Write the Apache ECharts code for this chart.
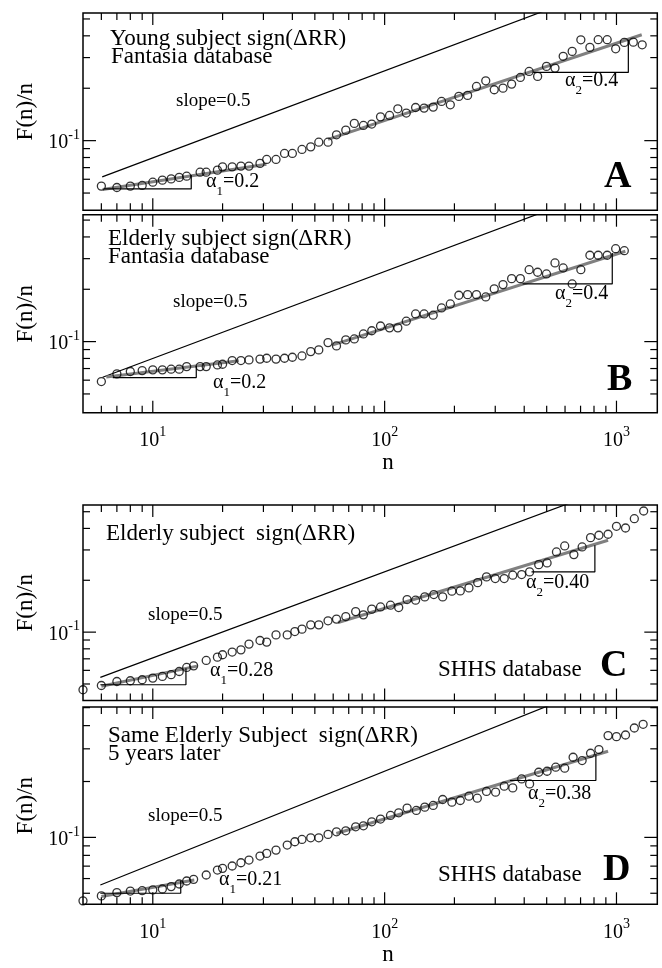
<!DOCTYPE html>
<html><head><meta charset="utf-8">
<script src="https://cdn.jsdelivr.net/npm/echarts@6/dist/echarts.min.js"></script>
<style>html,body{margin:0;padding:0;background:#fff}#c{width:662px;height:968px}</style>
</head><body><div id="c"></div>
<script>
// ---------- tick values ----------
const xTicksMajor = [10, 100, 1000];
const xTicksMinor = [6,7,8,9,20,30,40,50,60,70,80,90,200,300,400,500,600,700,800,900];
const yTicksMajor = [0.1];
const yTicksMinor = [0.05,0.06,0.07,0.08,0.09,0.2,0.3,0.4,0.5];

// ---------- Panel A : young subject, Fantasia ----------
const nA = [6,7,8,9,10,11,12,13,14,16,17,19,20,22,24,26,29,31,34,37,40,44,48,52,57,62,68,74,81,88,96,105,114,124,136,148,162,176,192,209,228,249,273,297,324,353,385,420,457,499,543,589,644,702,768,834,912,992,1081,1182,1291];
const fA = [0.0548,0.0538,0.0548,0.0553,0.0577,0.0593,0.0603,0.0615,0.0625,0.0659,0.0659,0.0677,0.0707,0.0707,0.0714,0.0714,0.0740,0.0780,0.0780,0.0844,0.0844,0.0890,0.0921,0.0980,0.0980,0.108,0.1149,0.1256,0.1223,0.1245,0.137,0.1396,0.1523,0.144,0.155,0.1538,0.1558,0.168,0.1607,0.1795,0.1819,0.2048,0.2207,0.196,0.2002,0.2112,0.2307,0.2498,0.2339,0.267,0.261,0.305,0.3256,0.3796,0.3432,0.38,0.38,0.337,0.3667,0.368,0.3553];
const slopeA = [[6.05,0.0619],[1500,0.975]];
const fit1A = [[6.08,0.0524],[30.9,0.0732]];
const fit2A = [[57,0.1016],[1285,0.4055]];
const tri1A = [[6.19,0.0528],[14.65,0.0528],[14.65,0.0634]];
const tri2A = [[437.5,0.2465],[1125,0.2465],[1125,0.3796]];

// ---------- Panel B : elderly subject, Fantasia ----------
const nB = [6,7,8,9,10,11,12,13,14,16,17,19,20,22,24,26,29,31,34,37,40,44,48,52,57,62,68,74,81,88,96,105,114,124,136,148,162,176,192,209,228,249,273,297,324,353,385,420,457,499,543,589,644,702,768,834,912,992,1081];
const fB = [0.0589,0.0652,0.0673,0.0681,0.0688,0.0688,0.0694,0.0694,0.0718,0.0718,0.0718,0.0734,0.0741,0.0778,0.0778,0.0785,0.0793,0.0802,0.0793,0.0802,0.0813,0.0827,0.0876,0.0896,0.0987,0.0945,0.1023,0.1036,0.1107,0.1155,0.123,0.120,0.120,0.131,0.1443,0.1443,0.1419,0.1562,0.1647,0.1848,0.1863,0.1863,0.1807,0.201,0.2127,0.2302,0.2302,0.2593,0.2505,0.245,0.2834,0.2652,0.2146,0.2593,0.3138,0.3138,0.3138,0.3424,0.3334];
const slopeB = [[6.08,0.0624],[1500,0.98]];
const fit1B = [[6.3,0.0625],[23.5,0.0775]];
const fit2B = [[59.8,0.0957],[1092,0.3307]];
const tri1B = [[6.72,0.0621],[15.4,0.0621],[15.4,0.0725]];
const tri2B = [[393.5,0.2146],[959,0.2146],[959,0.3235]];

// ---------- Panel C : elderly subject, SHHS ----------
const nC = [5,6,7,8,9,10,11,12,13,14,15,17,19,20,22,24,26,29,31,34,38,41,44,48,52,57,62,68,75,81,88,96,106,115,125,136,149,163,178,195,212,231,252,275,300,328,357,390,422,462,502,551,598,655,711,773,840,920,1000,1094,1194,1310];
const fC = [0.0463,0.049,0.0517,0.0522,0.0529,0.0541,0.0553,0.0566,0.0591,0.0624,0.0637,0.0685,0.0716,0.0739,0.0766,0.0789,0.0852,0.0894,0.0875,0.0964,0.0964,0.1008,0.1041,0.1102,0.1102,0.1163,0.1190,0.1231,0.1316,0.126,0.136,0.140,0.1434,0.1389,0.1545,0.1533,0.1602,0.1652,0.1602,0.1729,0.1735,0.1806,0.1938,0.2092,0.2046,0.2046,0.214,0.2158,0.2237,0.2465,0.2522,0.292,0.3165,0.2818,0.3122,0.3535,0.365,0.37,0.4116,0.4023,0.4556,0.505];
const slopeC = [[5.94,0.0546],[1500,0.867]];
const fit1C = [[6,0.0485],[15.5,0.0635]];
const fit2C = [[63,0.1137],[920,0.3414]];
const tri1C = [[5.94,0.0495],[13.9,0.0495],[13.9,0.0618]];
const tri2C = [[430,0.2237],[807,0.2237],[807,0.3194]];

// ---------- Panel D : same subject 5 years later, SHHS ----------
const nD = [5,6,7,8,9,10,11,12,13,14,15,17,19,20,22,24,26,29,31,34,38,41,44,48,52,57,62,68,75,81,88,96,106,115,125,137,149,162,178,195,212,231,251,275,301,328,357,390,422,462,502,547,598,650,711,773,840,920,1000,1094,1194,1303];
const fD = [0.0455,0.0484,0.0504,0.0514,0.0516,0.0521,0.0527,0.0543,0.0561,0.0582,0.0594,0.0627,0.0667,0.0681,0.0701,0.073,0.0755,0.0793,0.082,0.0854,0.0909,0.0947,0.0975,0.0995,0.0995,0.1038,0.1072,0.1085,0.114,0.1154,0.1213,0.1255,0.1313,0.1356,0.1437,0.1397,0.1455,0.1486,0.16,0.1548,0.158,0.1667,0.1626,0.1768,0.1753,0.1887,0.1848,0.2065,0.1942,0.2244,0.2272,0.2388,0.2359,0.2702,0.2594,0.2839,0.2972,0.3535,0.349,0.356,0.3883,0.4066];
const slopeD = [[5.94,0.0554],[1500,0.88]];
const fit1D = [[6,0.048],[15.1,0.0589]];
const fit2D = [[61.9,0.105],[920,0.291]];
const tri1D = [[5.94,0.05],[13.2,0.05],[13.2,0.0584]];
const tri2D = [[347,0.2025],[815,0.2025],[815,0.2814]];

// ---------- layout & style ----------
const SERIF = "'Liberation Serif','Times New Roman',serif";
const GRAY = '#808080';
const panels = [
  {n:nA,f:fA,slope:slopeA,fit1:fit1A,fit2:fit2A,tri1:tri1A,tri2:tri2A,yMin:0.0398,yMax:0.541,top:13,height:197.3,xLab:false},
  {n:nB,f:fB,slope:slopeB,fit1:fit1B,fit2:fit2B,tri1:tri1B,tri2:tri2B,yMin:0.039,yMax:0.537,top:214.7,height:198,xLab:true},
  {n:nC,f:fC,slope:slopeC,fit1:fit1C,fit2:fit2C,tri1:tri1C,tri2:tri2C,yMin:0.0401,yMax:0.547,top:505,height:195.5,xLab:false},
  {n:nD,f:fD,slope:slopeD,fit1:fit1D,fit2:fit2D,tri1:tri1D,tri2:tri2D,yMin:0.0436,yMax:0.504,top:707,height:197.3,xLab:true}
];

function powLabel(v){
  const e = Math.log10(v), r = Math.round(e);
  if (Math.abs(e - r) > 1e-6) return '';
  return '{b|10}{s|' + r + '}';
}
const labRich = {
  b:{fontSize:20,fontFamily:SERIF,color:'#000',lineHeight:25,verticalAlign:'bottom'},
  s:{fontSize:14,fontFamily:SERIF,color:'#000',lineHeight:14,verticalAlign:'top'}
};

function lineS(i, data, color, w){
  return {type:'line',xAxisIndex:i,yAxisIndex:i,data:data,symbol:'none',silent:true,animation:false,
    lineStyle:{color:color,width:w},clip:true,z:2};
}
function xTickSeries(i, yMin){
  const vals = xTicksMajor.map(v=>[v,yMin,1]).concat(xTicksMinor.map(v=>[v,yMin,0]));
  return {type:'custom',xAxisIndex:i,yAxisIndex:i,clip:false,silent:true,animation:false,z:10,data:vals,
    renderItem:function(params, api){
      const cs = params.coordSys;
      const x = api.coord([api.value(0), api.value(1)])[0];
      const L = api.value(2) ? 12 : 7;
      const st = {stroke:'#000',lineWidth:1.2};
      return {type:'group',children:[
        {type:'line',shape:{x1:x,y1:cs.y+cs.height,x2:x,y2:cs.y+cs.height-L},style:st},
        {type:'line',shape:{x1:x,y1:cs.y,x2:x,y2:cs.y+L},style:st}]};
    }};
}
function yTickSeries(i){
  const vals = yTicksMajor.map(v=>[10,v,1]).concat(yTicksMinor.map(v=>[10,v,0]));
  return {type:'custom',xAxisIndex:i,yAxisIndex:i,clip:false,silent:true,animation:false,z:10,data:vals,
    renderItem:function(params, api){
      const cs = params.coordSys;
      const y = api.coord([api.value(0), api.value(1)])[1];
      if (y < cs.y - 0.5 || y > cs.y + cs.height + 0.5) return null;
      const L = api.value(2) ? 13 : 7;
      const st = {stroke:'#000',lineWidth:1.2};
      return {type:'group',children:[
        {type:'line',shape:{x1:cs.x,y1:y,x2:cs.x+L,y2:y},style:st},
        {type:'line',shape:{x1:cs.x+cs.width,y1:y,x2:cs.x+cs.width-L,y2:y},style:st}]};
    }};
}

const grids=[], xAxes=[], yAxes=[], series=[];
panels.forEach((p,i)=>{
  grids.push({left:83,width:574.3,top:p.top,height:p.height,show:true,borderColor:'#000',borderWidth:1.5,backgroundColor:'rgba(0,0,0,0)'});
  xAxes.push({gridIndex:i,type:'log',logBase:10,min:5,max:1500,
    axisLine:{show:false},axisTick:{show:false},splitLine:{show:false},minorTick:{show:false},
    axisLabel:{show:p.xLab,margin:13,formatter:powLabel,rich:labRich,showMinLabel:false,showMaxLabel:false}});
  yAxes.push({gridIndex:i,type:'log',logBase:10,min:p.yMin,max:p.yMax,
    name:'F(n)/n',nameLocation:'middle',nameGap:46,
    nameTextStyle:{fontSize:23,fontFamily:SERIF,color:'#000'},
    axisLine:{show:false},axisTick:{show:false},splitLine:{show:false},minorTick:{show:false},
    axisLabel:{margin:3,formatter:powLabel,rich:labRich,showMinLabel:false,showMaxLabel:false}});
  series.push(lineS(i,p.slope,'#000',1.2));
  series.push(lineS(i,p.fit1,GRAY,3));
  series.push(lineS(i,p.fit2,GRAY,3));
  series.push(lineS(i,p.tri1,'#000',1.2));
  series.push(lineS(i,p.tri2,'#000',1.2));
  series.push({type:'scatter',xAxisIndex:i,yAxisIndex:i,data:p.n.map((v,k)=>[v,p.f[k]]),
    symbol:'circle',symbolSize:8,silent:true,animation:false,clip:false,z:5,
    itemStyle:{color:'rgba(0,0,0,0)',borderColor:'#000',borderWidth:1.3}});
  series.push(xTickSeries(i,p.yMin));
  series.push(yTickSeries(i));
});

// ---------- annotations ----------
const plainTexts = [
  ['Young subject sign(ΔRR)',110,47,23,'normal'],
  ['Fantasia database',111,65,23,'normal'],
  ['slope=0.5',176,107,19,'normal'],
  ['Elderly subject sign(ΔRR)',108,247,23,'normal'],
  ['Fantasia database',108,265,23,'normal'],
  ['slope=0.5',173,308,19,'normal'],
  ['Elderly subject  sign(ΔRR)',106,542,23,'normal'],
  ['slope=0.5',148,621,19,'normal'],
  ['SHHS database',438,678,23,'normal'],
  ['Same Elderly Subject  sign(ΔRR)',108,744,23,'normal'],
  ['5 years later',108,762,23,'normal'],
  ['slope=0.5',148,822,19,'normal'],
  ['SHHS database',438,883,23,'normal'],
  ['A',604,190,38,'bold'],
  ['B',607,393,38,'bold'],
  ['C',600,679,38,'bold'],
  ['D',603,883,38,'bold']
];
const alphaTexts = [
  ['1','=0.2',206,192],['2','=0.4',565,91],
  ['1','=0.2',213,393],['2','=0.4',555,304],
  ['1','=0.28',210,681],['2','=0.40',526,593],
  ['1','=0.21',219,890],['2','=0.38',528,804]
];
const graphics = [];
plainTexts.forEach(t=>{
  graphics.push({type:'text',x:t[1],y:t[2]-0.34*t[3],silent:true,
    style:{text:t[0],font:t[4]+' '+t[3]+'px '+SERIF,fill:'#000',textAlign:'left',textVerticalAlign:'middle'}});
});
alphaTexts.forEach(t=>{
  graphics.push({type:'text',x:t[2],y:t[3]-19.8,silent:true,
    style:{text:'{a|α}{s|'+t[0]+'}{a|'+t[1]+'}',textAlign:'left',textVerticalAlign:'top',
      rich:{a:{fontSize:20,fontFamily:SERIF,fill:'#000',color:'#000',lineHeight:26,verticalAlign:'top'},
            s:{fontSize:13,fontFamily:SERIF,fill:'#000',color:'#000',lineHeight:14,verticalAlign:'bottom'}}}});
});
[[388,463],[388,955]].forEach(p=>{
  graphics.push({type:'text',x:p[0],y:p[1],silent:true,
    style:{text:'n',font:'23px '+SERIF,fill:'#000',textAlign:'center',textVerticalAlign:'middle'}});
});

const chart = echarts.init(document.getElementById('c'));
chart.setOption({animation:false,backgroundColor:'#fff',grid:grids,xAxis:xAxes,yAxis:yAxes,series:series,graphic:graphics});
</script></body></html>
